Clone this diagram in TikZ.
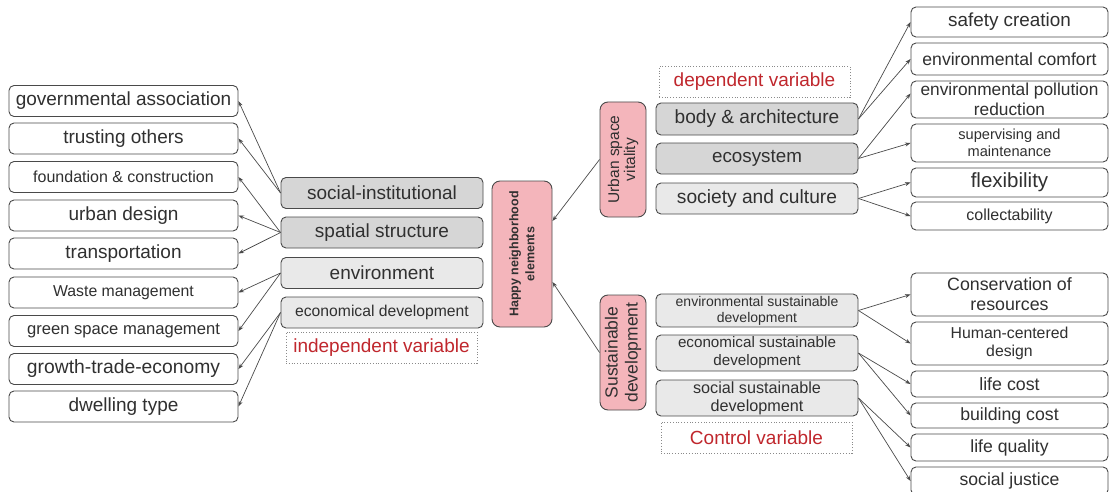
\documentclass[tikz,border=0pt]{standalone}
\usepackage{fontspec}
\setmainfont{Liberation Sans}
\usetikzlibrary{arrows.meta}
\definecolor{txt}{HTML}{303030}
\definecolor{edge}{HTML}{4A4A4A}
\definecolor{gdark}{HTML}{D6D6D6}
\definecolor{glight}{HTML}{E9E9E9}
\definecolor{pinkf}{HTML}{F4B5BB}
\definecolor{redt}{HTML}{C0272D}
\definecolor{dotc}{HTML}{8A8A8A}
\begin{document}
\begin{tikzpicture}[x=1pt,y=-1pt,
 fsz/.style 2 args={font=\fontsize{#1}{#2}\selectfont},
 box/.style={draw=edge, line width=0.9pt, rounded corners=5pt, inner sep=0pt, text=txt, align=center},
 leaf/.style={box, fill=white, minimum width=229pt, minimum height=31pt},
 midd/.style={box, fill=gdark, minimum width=202pt, minimum height=31pt},
 midl/.style={box, fill=glight, minimum width=202pt, minimum height=31pt},
 rleaf/.style={box, fill=white, minimum width=197pt},
 pinkbox/.style={draw=edge, line width=0.9pt, fill=pinkf, rounded corners=8pt, inner sep=0pt, rotate=90, align=center, text=txt},
 dotbox/.style={draw=dotc, dotted, line width=0.8pt, inner sep=0pt, text=redt, minimum width=191pt, minimum height=31pt, fsz={19}{22}},
 arr/.style={-{Stealth[length=5.5pt,width=4pt]}, draw=edge, line width=0.7pt}
]
\useasboundingbox[fill=white] (0,0) rectangle (1110,492);

% left leaves
\node[leaf, fsz={19}{22}] (l1) at (123.5,101) {governmental association};
\node[leaf, fsz={19}{22}] (l2) at (123.5,138.5) {trusting others};
\node[leaf, fsz={16}{19}] (l3) at (123.5,177) {foundation \& construction};
\node[leaf, fsz={19}{22}] (l4) at (123.5,215.5) {urban design};
\node[leaf, fsz={19}{22}] (l5) at (123.5,253.5) {transportation};
\node[leaf, fsz={15.8}{19}] (l6) at (123.5,292.5) {Waste management};
\node[leaf, fsz={16.6}{19}] (l7) at (123.5,331) {green space management};
\node[leaf, fsz={19.3}{22}] (l8) at (123.5,369) {growth-trade-economy};
\node[leaf, fsz={19}{22}] (l9) at (123.5,406.5) {dwelling type};

% middle left
\node[midd, fsz={19}{22}] (si) at (382,193) {social-institutional};
\node[midd, fsz={19}{22}] (ss) at (382,232.5) {spatial structure};
\node[midl, fsz={19}{22}] (en) at (382,273) {environment};
\node[midl, fsz={15.7}{19}] (ed) at (382,312.5) {economical development};
\node[dotbox] (iv) at (381.5,347.5) {independent variable};

% center
\node[pinkbox, minimum width=146pt, minimum height=60pt, font=\fontsize{12.5}{16}\selectfont\bfseries] (hn) at (522,254) {Happy neighborhood\\elements};
\node[pinkbox, minimum width=115pt, minimum height=46pt, fsz={15.5}{16}] (uv) at (623,159.5) {Urban space\\vitality};
\node[pinkbox, minimum width=115pt, minimum height=46pt, fsz={17.5}{20}] (sd) at (623,352.5) {Sustainable\\development};

% middle right
\node[dotbox] (dv) at (754.5,82) {dependent variable};
\node[midd, fsz={19.1}{22}, minimum height=32pt] (ba) at (757,119) {body \& architecture};
\node[midd, fsz={18.8}{22}] (ec) at (757,158.5) {ecosystem};
\node[midl, fsz={19.2}{22}] (sc) at (757,198.5) {society and culture};
\node[midl, fsz={14}{16}, minimum height=33pt] (es) at (757,310.5) {environmental sustainable\\development};
\node[midl, fsz={15.2}{18}, minimum height=36pt] (cs) at (757,353) {economical sustainable\\development};
\node[midl, fsz={16.2}{18}, minimum height=36pt] (os) at (757,398) {social sustainable\\development};
\node[dotbox] (cv) at (756.5,437.5) {Control variable};

% right leaves
\node[rleaf, fsz={18.9}{22}, minimum height=30pt] (r1) at (1009.5,22) {safety creation};
\node[rleaf, fsz={17.6}{20}, minimum height=32pt] (r2) at (1009.5,59) {environmental comfort};
\node[rleaf, fsz={17.3}{19.5}, minimum height=37pt] (r3) at (1009.5,99.5) {environmental pollution\\reduction};
\node[rleaf, fsz={14.6}{16.5}, minimum height=38pt] (r4) at (1009.5,143) {supervising and\\maintenance};
\node[rleaf, fsz={20.5}{22}, minimum height=29pt] (r5) at (1009.5,182.5) {flexibility};
\node[rleaf, fsz={16}{19}, minimum height=28pt] (r6) at (1009.5,216) {collectability};
\node[rleaf, fsz={17.8}{20}, minimum height=43pt] (r7) at (1009.5,294.5) {Conservation of\\resources};
\node[rleaf, fsz={15.8}{17.5}, minimum height=43pt] (r8) at (1009.5,343.5) {Human-centered\\design};
\node[rleaf, fsz={17.8}{20}, minimum height=26pt] (r9) at (1009.5,384) {life cost};
\node[rleaf, fsz={17.7}{20}, minimum height=25pt] (r10) at (1009.5,415.5) {building cost};
\node[rleaf, fsz={17.6}{20}, minimum height=27pt] (r11) at (1009.5,447.5) {life quality};
\node[rleaf, fsz={17.6}{20}, minimum height=28pt] (r12) at (1009.5,481) {social justice};

% left arrows
\draw[arr] (si.west) -- (l1.east);
\draw[arr] (si.west) -- (l2.east);
\draw[arr] (ss.west) -- (l3.east);
\draw[arr] (ss.west) -- (l4.east);
\draw[arr] (ss.west) -- (l5.east);
\draw[arr] (en.west) -- (l6.east);
\draw[arr] (en.west) -- (l7.east);
\draw[arr] (ed.west) -- (l8.east);
\draw[arr] (ed.west) -- (l9.east);

% center arrows
\draw[arr] (uv.north) -- ([yshift=33pt]hn.south);
\draw[arr] (sd.north) -- ([yshift=-28pt]hn.south);

% right arrows
\draw[arr] (ba.east) -- (r1.west);
\draw[arr] (ba.east) -- (r2.west);
\draw[arr] (ec.east) -- ([yshift=6pt]r3.west);
\draw[arr] (ec.east) -- (r4.west);
\draw[arr] (sc.east) -- (r5.west);
\draw[arr] (sc.east) -- (r6.west);
\draw[arr] (es.east) -- (r7.west);
\draw[arr] (es.east) -- (r8.west);
\draw[arr] (cs.east) -- (r9.west);
\draw[arr] (cs.east) -- (r10.west);
\draw[arr] (os.east) -- (r11.west);
\draw[arr] (os.east) -- (r12.west);
\end{tikzpicture}
\end{document}
